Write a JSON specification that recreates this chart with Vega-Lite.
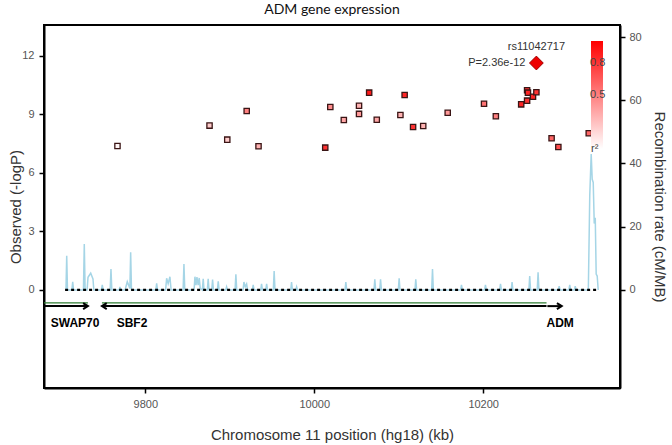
{
  "$schema": "https://vega.github.io/schema/vega-lite/v6.json",
  "width": 576,
  "height": 363,
  "autosize": {"type": "none"},
  "padding": {"left": 44, "top": 25, "right": 52, "bottom": 57},
  "title": {"text": "ADM gene expression", "fontSize": 14, "font": "Lato", "fontWeight": "normal", "color": "#111", "offset": 8},
  "config": {
    "view": {"stroke": "#000", "strokeWidth": 2},
    "axis": {"grid": false, "domainColor": "#000", "domainWidth": 2, "tickColor": "#000", "tickWidth": 1.5, "tickSize": 5,
      "labelFont": "Liberation Sans", "labelFontSize": 11, "labelColor": "#555",
      "titleFont": "Liberation Sans", "titleFontSize": 15, "titleFontWeight": "normal", "titleColor": "#333"}
  },
  "datasets": {
    "snps": [
      {"pos": 9767, "logp": 7.38, "r2": 0.03},
      {"pos": 9876, "logp": 8.43, "r2": 0.2},
      {"pos": 9897, "logp": 7.71, "r2": 0.2},
      {"pos": 9920, "logp": 9.18, "r2": 0.5},
      {"pos": 9934, "logp": 7.37, "r2": 0.3},
      {"pos": 10013, "logp": 7.30, "r2": 0.8},
      {"pos": 10019, "logp": 9.38, "r2": 0.45},
      {"pos": 10035, "logp": 8.72, "r2": 0.35},
      {"pos": 10053, "logp": 9.45, "r2": 0.3},
      {"pos": 10053, "logp": 9.03, "r2": 0.4},
      {"pos": 10065, "logp": 10.12, "r2": 0.9},
      {"pos": 10074, "logp": 8.73, "r2": 0.35},
      {"pos": 10102, "logp": 8.97, "r2": 0.3},
      {"pos": 10107, "logp": 10.0, "r2": 0.85},
      {"pos": 10117, "logp": 8.36, "r2": 0.8},
      {"pos": 10129, "logp": 8.41, "r2": 0.3},
      {"pos": 10158, "logp": 9.09, "r2": 0.4},
      {"pos": 10201, "logp": 9.55, "r2": 0.55},
      {"pos": 10215, "logp": 8.91, "r2": 0.5},
      {"pos": 10245, "logp": 9.52, "r2": 0.85},
      {"pos": 10252, "logp": 10.24, "r2": 0.8},
      {"pos": 10253, "logp": 10.12, "r2": 0.85},
      {"pos": 10252, "logp": 9.71, "r2": 0.8},
      {"pos": 10259, "logp": 9.91, "r2": 0.85},
      {"pos": 10263, "logp": 10.14, "r2": 0.8},
      {"pos": 10281, "logp": 7.78, "r2": 0.6},
      {"pos": 10289, "logp": 7.33, "r2": 0.7},
      {"pos": 10325, "logp": 8.04, "r2": 0.6}
    ],
    "lead": [{"pos": 10263, "logp": 11.64, "snp": "rs11042717", "p": "P=2.36e-12"}],
    "recomb": [
      {"pos": 9705, "rate": 0},
      {"pos": 9706, "rate": 0}, {"pos": 9706.9, "rate": 10.8}, {"pos": 9707.8, "rate": 0},
      {"pos": 9713, "rate": 0}, {"pos": 9714, "rate": 2.6}, {"pos": 9715, "rate": 0},
      {"pos": 9726.7, "rate": 0}, {"pos": 9727.7, "rate": 14.5}, {"pos": 9728.7, "rate": 0},
      {"pos": 9731, "rate": 0}, {"pos": 9732.1, "rate": 4}, {"pos": 9735.3, "rate": 5.3}, {"pos": 9738, "rate": 3.5}, {"pos": 9739, "rate": 0},
      {"pos": 9748, "rate": 0}, {"pos": 9749, "rate": 1.6}, {"pos": 9750, "rate": 0},
      {"pos": 9758.3, "rate": 0}, {"pos": 9759.3, "rate": 6.6}, {"pos": 9760.3, "rate": 0},
      {"pos": 9769, "rate": 0}, {"pos": 9769.9, "rate": 1}, {"pos": 9770.8, "rate": 0},
      {"pos": 9776, "rate": 0}, {"pos": 9778.6, "rate": 2.6}, {"pos": 9781.7, "rate": 0.5}, {"pos": 9782.6, "rate": 11.9}, {"pos": 9783.6, "rate": 0},
      {"pos": 9812.4, "rate": 0}, {"pos": 9813.4, "rate": 2.1}, {"pos": 9814.4, "rate": 0},
      {"pos": 9824, "rate": 0}, {"pos": 9825.2, "rate": 3.7}, {"pos": 9827, "rate": 2}, {"pos": 9829.1, "rate": 4.2}, {"pos": 9830.5, "rate": 0},
      {"pos": 9844.7, "rate": 0}, {"pos": 9845.7, "rate": 8.2}, {"pos": 9846.7, "rate": 0},
      {"pos": 9857.7, "rate": 0}, {"pos": 9858.7, "rate": 4.2}, {"pos": 9860, "rate": 1.5}, {"pos": 9861.1, "rate": 4.1}, {"pos": 9862.5, "rate": 1.5}, {"pos": 9863.8, "rate": 3.8}, {"pos": 9865, "rate": 0.5},
      {"pos": 9867.5, "rate": 0}, {"pos": 9868.5, "rate": 3.5}, {"pos": 9869.5, "rate": 0},
      {"pos": 9873.4, "rate": 0}, {"pos": 9874.4, "rate": 3.5}, {"pos": 9875.4, "rate": 0},
      {"pos": 9878.6, "rate": 0}, {"pos": 9879.6, "rate": 3.3}, {"pos": 9880.6, "rate": 0},
      {"pos": 9885.3, "rate": 0}, {"pos": 9886.3, "rate": 2.7}, {"pos": 9887.3, "rate": 0},
      {"pos": 9895.2, "rate": 0}, {"pos": 9896.2, "rate": 1}, {"pos": 9897.2, "rate": 0},
      {"pos": 9906.2, "rate": 0}, {"pos": 9907.2, "rate": 5}, {"pos": 9908.2, "rate": 0},
      {"pos": 9915.7, "rate": 0}, {"pos": 9916.7, "rate": 2.5}, {"pos": 9918.3, "rate": 1}, {"pos": 9919.9, "rate": 1.9}, {"pos": 9921, "rate": 0},
      {"pos": 9926.7, "rate": 0}, {"pos": 9927.7, "rate": 1.6}, {"pos": 9928.7, "rate": 0},
      {"pos": 9936.6, "rate": 0}, {"pos": 9937.6, "rate": 1.9}, {"pos": 9938.6, "rate": 0},
      {"pos": 9942.6, "rate": 0}, {"pos": 9943.6, "rate": 1.9}, {"pos": 9944.6, "rate": 0},
      {"pos": 9951.5, "rate": 0}, {"pos": 9952.5, "rate": 6}, {"pos": 9953.5, "rate": 0},
      {"pos": 9972.1, "rate": 0}, {"pos": 9973.1, "rate": 2.5}, {"pos": 9974.1, "rate": 0},
      {"pos": 9978.1, "rate": 0}, {"pos": 9979.1, "rate": 1}, {"pos": 9980.1, "rate": 0},
      {"pos": 10036.4, "rate": 0}, {"pos": 10037.4, "rate": 2.5}, {"pos": 10038.4, "rate": 0},
      {"pos": 10070.7, "rate": 0}, {"pos": 10071.7, "rate": 3.4}, {"pos": 10072.7, "rate": 0},
      {"pos": 10077.5, "rate": 0}, {"pos": 10078.5, "rate": 3.4}, {"pos": 10079.5, "rate": 0},
      {"pos": 10099.5, "rate": 0}, {"pos": 10100.5, "rate": 3.7}, {"pos": 10101.5, "rate": 0},
      {"pos": 10119.2, "rate": 0}, {"pos": 10120.2, "rate": 3.4}, {"pos": 10121.2, "rate": 0},
      {"pos": 10139, "rate": 0}, {"pos": 10140, "rate": 6.6}, {"pos": 10141, "rate": 0},
      {"pos": 10173.3, "rate": 0}, {"pos": 10174.3, "rate": 1.6}, {"pos": 10175.3, "rate": 0},
      {"pos": 10201.7, "rate": 0}, {"pos": 10202.7, "rate": 1.6}, {"pos": 10203.7, "rate": 0},
      {"pos": 10219.5, "rate": 0}, {"pos": 10220.5, "rate": 1.9}, {"pos": 10221.5, "rate": 0},
      {"pos": 10233.2, "rate": 0}, {"pos": 10234.2, "rate": 2.5}, {"pos": 10235.2, "rate": 0},
      {"pos": 10254.1, "rate": 0}, {"pos": 10255.1, "rate": 4.4}, {"pos": 10256.1, "rate": 0},
      {"pos": 10264, "rate": 0}, {"pos": 10265, "rate": 5.6}, {"pos": 10266, "rate": 0},
      {"pos": 10289, "rate": 0}, {"pos": 10290, "rate": 1.2}, {"pos": 10291, "rate": 0},
      {"pos": 10301.5, "rate": 0}, {"pos": 10302.5, "rate": 1.6}, {"pos": 10303.5, "rate": 0},
      {"pos": 10308, "rate": 0}, {"pos": 10309, "rate": 1.2}, {"pos": 10310, "rate": 0},
      {"pos": 10324.5, "rate": 0}, {"pos": 10326.2, "rate": 30}, {"pos": 10327.9, "rate": 43}, {"pos": 10329.1, "rate": 35}, {"pos": 10330.3, "rate": 34},
      {"pos": 10331.5, "rate": 21}, {"pos": 10332.7, "rate": 22.8}, {"pos": 10333.8, "rate": 5}, {"pos": 10335, "rate": 4.4}, {"pos": 10336.2, "rate": 0}
    ],
    "genes": [
      {"gene": "SWAP70", "start": 9680, "end": 9732, "strand": "+"},
      {"gene": "SBF2", "start": 9748.6, "end": 10275, "strand": "-"},
      {"gene": "ADM", "start": 10276, "end": 10293, "strand": "+"}
    ],
    "genelabels": [
      {"gene": "SWAP70", "pos": 9688},
      {"gene": "SBF2", "pos": 9766},
      {"gene": "ADM", "pos": 10275}
    ]
  },
  "resolve": {"scale": {"y": "independent"}},
  "layer": [
    {
      "data": {"name": "recomb"},
      "mark": {"type": "line", "color": "#a5d5e6", "strokeWidth": 1.5, "clip": true},
      "encoding": {
        "x": {"field": "pos", "type": "quantitative", "scale": {"domain": [9680, 10362], "nice": false, "zero": false},
          "axis": {"values": [9800, 10000, 10200], "format": "d", "labelPadding": 5, "titlePadding": 18, "title": "Chromosome 11 position (hg18) (kb)"}},
        "y": {"field": "rate", "type": "quantitative", "scale": {"domain": [-31, 83.8], "nice": false, "zero": false},
          "axis": {"orient": "right", "values": [0, 20, 40, 60, 80], "labelPadding": 4, "titlePadding": 10, "title": "Recombination rate (cM/MB)"}}
      }
    },
    {
      "layer": [
        {
          "data": {"name": "genes"},
          "mark": {"type": "rule", "color": "#2e7d32", "strokeWidth": 1.2, "clip": true},
          "transform": [{"filter": "datum.gene !== 'ADM'"}],
          "encoding": {
            "x": {"field": "start", "type": "quantitative", "scale": {"domain": [9680, 10362], "nice": false, "zero": false}},
            "x2": {"field": "end"},
            "y": {"datum": -0.66, "type": "quantitative", "scale": {"domain": [-5.03, 13.59], "nice": false, "zero": false},
              "axis": {"orient": "left", "values": [0, 3, 6, 9, 12], "labelPadding": 5, "titlePadding": -2, "title": "Observed (-logP)"}}
          }
        },
        {
          "data": {"name": "genes"},
          "mark": {"type": "rule", "color": "#000", "strokeWidth": 2, "clip": true},
          "encoding": {
            "x": {"field": "start", "type": "quantitative"},
            "x2": {"field": "end"},
            "y": {"datum": -0.83, "type": "quantitative"}
          }
        },
        {
          "data": {"name": "genes"},
          "transform": [{"filter": "datum.strand === '+'"}],
          "mark": {"type": "point", "shape": "M-1.6,-1L0,0L-1.6,1", "filled": false, "stroke": "#000", "strokeWidth": 2, "size": 36, "opacity": 1},
          "encoding": {
            "x": {"field": "end", "type": "quantitative"},
            "y": {"datum": -0.83, "type": "quantitative"}
          }
        },
        {
          "data": {"name": "genes"},
          "transform": [{"filter": "datum.strand === '-'"}],
          "mark": {"type": "point", "shape": "M1.6,-1L0,0L1.6,1", "filled": false, "stroke": "#000", "strokeWidth": 2, "size": 36, "opacity": 1},
          "encoding": {
            "x": {"field": "start", "type": "quantitative"},
            "y": {"datum": -0.83, "type": "quantitative"}
          }
        },
        {
          "data": {"name": "genelabels"},
          "mark": {"type": "text", "font": "Liberation Sans", "fontWeight": "bold", "fontSize": 12, "color": "#000", "align": "left", "baseline": "middle"},
          "encoding": {
            "x": {"field": "pos", "type": "quantitative"},
            "y": {"datum": -1.69, "type": "quantitative"},
            "text": {"field": "gene"}
          }
        },
        {
          "data": {"name": "genes"},
          "transform": [{"filter": "datum.gene === 'SBF2'"}],
          "mark": {"type": "rule", "color": "#000", "strokeWidth": 2.2, "strokeDash": [3, 3]},
          "encoding": {
            "x": {"datum": 9705, "type": "quantitative"},
            "x2": {"datum": 10336},
            "y": {"datum": 0, "type": "quantitative"}
          }
        },
        {
          "data": {"name": "snps"},
          "mark": {"type": "point", "shape": "square", "filled": true, "size": 28, "stroke": "#3a1515", "strokeWidth": 1.3, "opacity": 1},
          "encoding": {
            "x": {"field": "pos", "type": "quantitative"},
            "y": {"field": "logp", "type": "quantitative"},
            "color": {"field": "r2", "type": "quantitative", "scale": {"domain": [0, 1], "range": ["#ffffff", "#ff0000"], "interpolate": "rgb"},
              "legend": {"orient": "none", "legendX": 547, "legendY": 16, "direction": "vertical", "gradientLength": 108, "gradientThickness": 12,
                "values": [0.5, 0.8], "labelOffset": -13, "labelFontSize": 11, "labelFont": "Liberation Sans", "labelColor": "#444",
                "title": "r²", "titleOrient": "bottom", "titleFontSize": 11, "titleFontWeight": "normal", "titleFont": "Liberation Sans", "titleColor": "#444",
                "titlePadding": -6, "gradientStrokeWidth": 0}}
          }
        },
        {
          "data": {"name": "lead"},
          "mark": {"type": "point", "shape": "diamond", "filled": true, "size": 190, "color": "#ee0000", "stroke": "#a00000", "strokeWidth": 1, "opacity": 1},
          "encoding": {
            "x": {"field": "pos", "type": "quantitative"},
            "y": {"field": "logp", "type": "quantitative"}
          }
        },
        {
          "data": {"name": "lead"},
          "mark": {"type": "text", "font": "Liberation Sans", "fontSize": 11, "color": "#333", "align": "center", "baseline": "middle", "dy": -16},
          "encoding": {
            "x": {"field": "pos", "type": "quantitative"},
            "y": {"field": "logp", "type": "quantitative"},
            "text": {"field": "snp"}
          }
        },
        {
          "data": {"name": "lead"},
          "mark": {"type": "text", "font": "Liberation Sans", "fontSize": 11, "color": "#333", "align": "right", "baseline": "middle", "dx": -11},
          "encoding": {
            "x": {"field": "pos", "type": "quantitative"},
            "y": {"field": "logp", "type": "quantitative"},
            "text": {"field": "p"}
          }
        }
      ]
    }
  ]
}
